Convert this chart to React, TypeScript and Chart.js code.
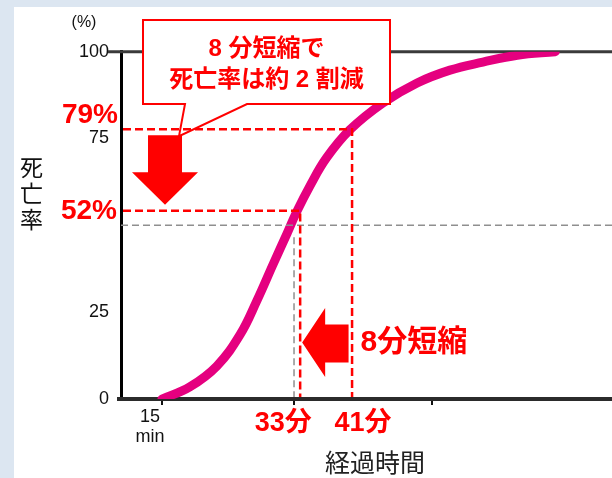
import React, { useEffect, useRef } from "react";
import { Chart, registerables } from "chart.js";

Chart.register(...registerables);

// ---- data ----
const minutes = [15, 18.8, 22.5, 25.7, 28.0, 30.2, 32.1, 33.4, 35.3, 37.5, 40.7, 45.2, 49.9, 54.4, 58.9, 63.6, 68.8];
const mortality = [0, 3.5, 9.5, 18.6, 28.4, 38.8, 47.6, 53.8, 61.6, 69.4, 77.5, 85.2, 91.0, 94.7, 97.0, 99.0, 100];

const yTickValues = [0, 25, 75, 100];
const xTickValues = [15, 33, 52];
const xTickLabels: (string | string[])[] = [["15", "min"], "", ""];

const markerMinutes = [33.9, 41];
const markerRates = [54.2, 77.7];
const markerRateLabels = ["52%", "79%"];
const markerMinuteLabels = ["33分", "41分"];

const refRate = 50;
const refMinute = 33.06;
const refMinuteTop = 46.6;
const arrowRate = 16.3;

const calloutLines = ["8 分短縮で", "死亡率は約 2 割減"];
const shortenLabel = "8分短縮";
const yTitleChars = ["死", "亡", "率"];
const xTitle = "経過時間";
const unitLabel = "(%)";

const xMin = 9.39;
const xMax = 76.56;

const FAMILY = "'Liberation Sans', Arial, 'Noto Sans CJK JP', sans-serif";
const RED = "#ff0000";

const decorations = {
  id: "decorations",
  beforeDatasetsDraw(chart: any) {
    const { ctx, chartArea: ca, scales } = chart;
    const Y = (v: number) => scales.y.getPixelForValue(v);
    ctx.save();
    ctx.strokeStyle = "#3a3a3a";
    ctx.lineWidth = 3;
    ctx.beginPath();
    ctx.moveTo(ca.left - 13, Y(100));
    ctx.lineTo(ca.right, Y(100));
    ctx.stroke();
    ctx.strokeStyle = "#2b2b2b";
    ctx.lineWidth = 4;
    ctx.beginPath();
    ctx.moveTo(ca.left - 4, ca.bottom);
    ctx.lineTo(ca.left + 2, ca.bottom);
    ctx.stroke();
    ctx.restore();
  },
  afterDatasetsDraw(chart: any) {
    const { ctx, chartArea: ca, scales } = chart;
    const X = (v: number) => scales.x.getPixelForValue(v);
    const Y = (v: number) => scales.y.getPixelForValue(v);
    ctx.save();

    // grey reference dashes
    ctx.setLineDash([7, 4]);
    ctx.strokeStyle = "#8f8f8f";
    ctx.lineWidth = 1.5;
    ctx.beginPath();
    ctx.moveTo(ca.left, Y(refRate));
    ctx.lineTo(ca.right, Y(refRate));
    ctx.moveTo(X(refMinute), Y(refMinuteTop));
    ctx.lineTo(X(refMinute), ca.bottom - 2);
    ctx.stroke();
    ctx.setLineDash([]);

    // callout box
    const bl = ca.left + 22, br = ca.left + 269, bt = ca.top - 31.7, bb = ca.top + 52.3;
    const tl = ca.left + 64, tr = ca.left + 126;
    const tipX = ca.left + 58, tipY = Y(markerRates[1]) + 7;
    ctx.beginPath();
    ctx.moveTo(bl, bt);
    ctx.lineTo(br, bt);
    ctx.lineTo(br, bb);
    ctx.lineTo(tr, bb);
    ctx.lineTo(tipX, tipY);
    ctx.lineTo(tl, bb);
    ctx.lineTo(bl, bb);
    ctx.closePath();
    ctx.fillStyle = "#ffffff";
    ctx.fill();
    ctx.strokeStyle = RED;
    ctx.lineWidth = 2;
    ctx.lineJoin = "miter";
    ctx.stroke();

    ctx.fillStyle = RED;
    ctx.font = `bold 24px ${FAMILY}`;
    ctx.textAlign = "center";
    ctx.textBaseline = "middle";
    ctx.fillText(calloutLines[0], (bl + br) / 2, bt + 29);
    ctx.fillText(calloutLines[1], (bl + br) / 2, bt + 60.7);

    // red dashed marker lines
    ctx.setLineDash([8, 4]);
    ctx.strokeStyle = RED;
    ctx.lineWidth = 2.5;
    for (let i = 0; i < markerMinutes.length; i++) {
      const px = X(markerMinutes[i]);
      const py = Y(markerRates[i]);
      ctx.beginPath();
      ctx.moveTo(ca.left + 2, py);
      ctx.lineTo(px, py);
      ctx.lineTo(px, ca.bottom - 2);
      ctx.stroke();
    }
    ctx.setLineDash([]);

    // down arrow
    ctx.fillStyle = RED;
    const dcx = X(15) + 3;
    const dTop = Y(markerRates[1]) + 6;
    const dTip = Y(markerRates[0]) - 6;
    const dHead = dTop + 37;
    ctx.beginPath();
    ctx.moveTo(dcx - 17, dTop);
    ctx.lineTo(dcx + 17, dTop);
    ctx.lineTo(dcx + 17, dHead);
    ctx.lineTo(dcx + 33, dHead);
    ctx.lineTo(dcx, dTip);
    ctx.lineTo(dcx - 33, dHead);
    ctx.lineTo(dcx - 17, dHead);
    ctx.closePath();
    ctx.fill();

    // left arrow
    const lTip = X(markerMinutes[0]) + 2;
    const lEnd = X(markerMinutes[1]) - 3.5;
    const lHead = lTip + 23;
    const lcy = Y(arrowRate);
    ctx.beginPath();
    ctx.moveTo(lTip, lcy);
    ctx.lineTo(lHead, lcy - 34.5);
    ctx.lineTo(lHead, lcy - 18);
    ctx.lineTo(lEnd, lcy - 18);
    ctx.lineTo(lEnd, lcy + 20);
    ctx.lineTo(lHead, lcy + 20);
    ctx.lineTo(lHead, lcy + 34.5);
    ctx.closePath();
    ctx.fill();

    // red texts
    ctx.font = `bold 30px ${FAMILY}`;
    ctx.textAlign = "left";
    ctx.fillText(shortenLabel, X(markerMinutes[1]) + 8.5, lcy);

    ctx.font = `bold 27px ${FAMILY}`;
    ctx.textAlign = "center";
    ctx.fillText(markerMinuteLabels[0], X(markerMinutes[0]) - 17, ca.bottom + 25);
    ctx.fillText(markerMinuteLabels[1], X(markerMinutes[1]) + 11, ca.bottom + 25);

    ctx.font = `bold 28px ${FAMILY}`;
    ctx.textAlign = "right";
    ctx.fillText(markerRateLabels[1], ca.left - 3, Y(markerRates[1]) - 14);
    ctx.fillText(markerRateLabels[0], ca.left - 4, Y(markerRates[0]) + 0.5);

    // black texts
    ctx.fillStyle = "#111";
    ctx.font = `16px ${FAMILY}`;
    ctx.textAlign = "center";
    ctx.fillText(unitLabel, ca.left - 37, ca.top - 29.5);

    ctx.font = `23px ${FAMILY}`;
    for (let i = 0; i < yTitleChars.length; i++) {
      ctx.fillText(yTitleChars[i], ca.left - 89.5, Y(refRate) - 55.4 + i * 25.7);
    }

    ctx.fillStyle = "#222";
    ctx.font = `25px ${FAMILY}`;
    ctx.fillText(xTitle, (ca.left + ca.right) / 2 + 8.5, ca.bottom + 66);

    ctx.restore();
  },
};

export default function App() {
  const canvasRef = useRef<HTMLCanvasElement | null>(null);

  useEffect(() => {
    if (!canvasRef.current) return;
    const chart = new Chart(canvasRef.current, {
      type: "line",
      data: {
        datasets: [
          {
            data: minutes.map((m, i) => ({ x: m, y: mortality[i] })),
            borderColor: "#e5007f",
            borderWidth: 9,
            pointRadius: 0,
            tension: 0.4,
            borderCapStyle: "round",
            borderJoinStyle: "round",
            fill: false,
          },
        ],
      },
      options: {
        animation: false,
        responsive: true,
        maintainAspectRatio: false,
        layout: { padding: { top: 44.7, left: 0, right: 0, bottom: 0 } },
        plugins: { legend: { display: false }, tooltip: { enabled: false } },
        scales: {
          x: {
            type: "linear",
            min: xMin,
            max: xMax,
            afterBuildTicks: (s: any) => {
              s.ticks = xTickValues.map((v) => ({ value: v }));
            },
            afterFit: (s: any) => {
              s.height = 79;
            },
            grid: { drawOnChartArea: false, drawTicks: true, tickLength: 6, color: "#111", lineWidth: 2 },
            border: { display: true, color: "#2b2b2b", width: 4 },
            ticks: {
              autoSkip: false,
              maxRotation: 0,
              padding: 2,
              labelOffset: -12,
              color: "#111",
              font: { family: FAMILY, size: 18, lineHeight: 1.1 },
              callback: (_v: any, i: number) => xTickLabels[i],
            },
          },
          y: {
            min: 0,
            max: 100,
            afterBuildTicks: (s: any) => {
              s.ticks = yTickValues.map((v) => ({ value: v }));
            },
            afterFit: (s: any) => {
              s.width = 107;
            },
            grid: { display: false, drawTicks: false },
            border: { display: true, color: "#000", width: 3 },
            ticks: {
              padding: 12,
              color: "#111",
              font: { family: FAMILY, size: 18 },
              callback: (v: any) => String(v),
            },
          },
        },
      },
      plugins: [decorations],
    } as any);
    return () => chart.destroy();
  }, []);

  return (
    <div style={{ position: "fixed", inset: 0, background: "#dce6f1" }}>
      <div style={{ position: "absolute", left: 14, top: 7, right: 0, bottom: 0, background: "#ffffff" }}>
        <canvas ref={canvasRef} style={{ display: "block" }} />
      </div>
    </div>
  );
}
